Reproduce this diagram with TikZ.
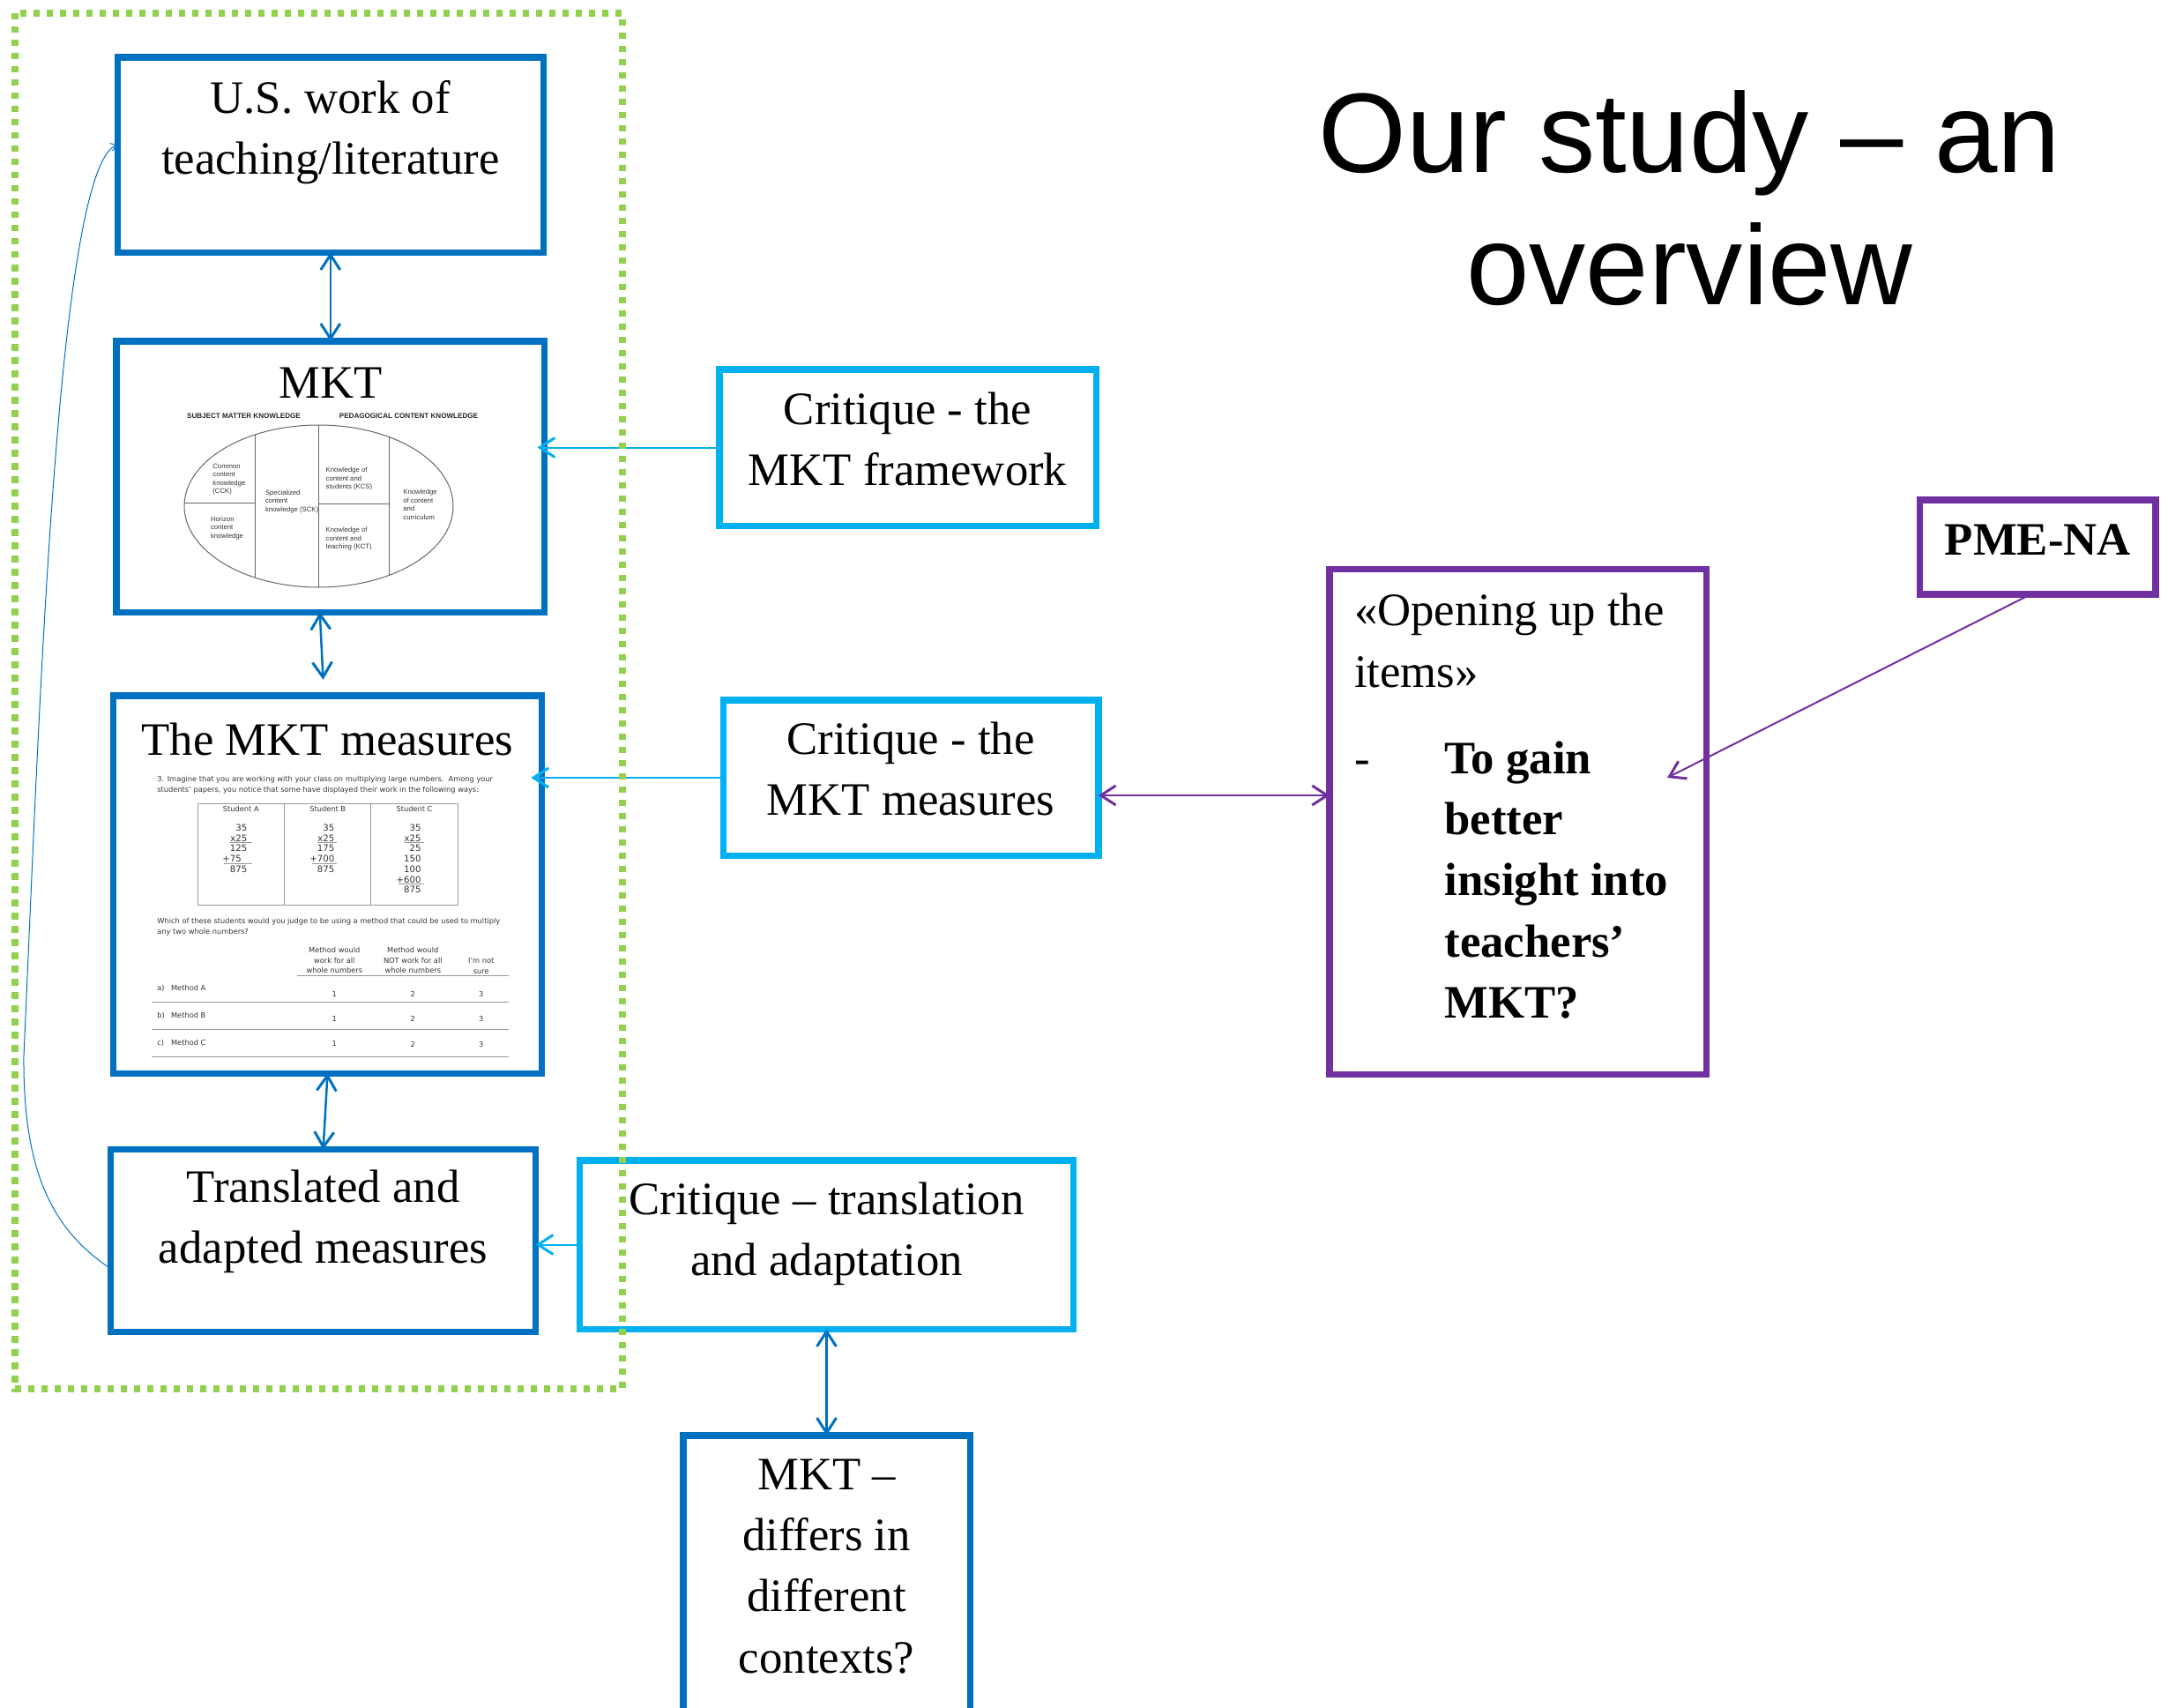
\documentclass[tikz,border=0pt]{standalone}
\usepackage{fontspec}
\setmainfont{Liberation Serif}
\newfontfamily\titlefont{Liberation Sans}
\newfontfamily\figfont{Liberation Sans}
\newfontfamily\itemfont{DejaVu Sans}
\usetikzlibrary{arrows.meta,positioning}
\definecolor{mktblue}{HTML}{0070C0}
\definecolor{critblue}{HTML}{00B0F0}
\definecolor{pmepurple}{HTML}{7030A0}
\definecolor{groupgreen}{HTML}{92D050}

\begin{document}
\begin{tikzpicture}[
  >={Straight Barb[length=1.7mm,width=2.2mm,line width=0.3mm]},
  darkbox/.style={draw=mktblue, line width=0.75mm, inner sep=0, outer sep=0},
  lightbox/.style={draw=critblue, line width=0.75mm, inner sep=0, outer sep=0},
  purplebox/.style={draw=pmepurple, line width=0.75mm, inner sep=0, outer sep=0},
  boxtext/.style={inner sep=0, align=center, font=\fontsize{15}{19.7}\selectfont},
  darklink/.style={draw=mktblue, line width=0.25mm},
  lightlink/.style={draw=critblue, line width=0.2mm},
  purplelink/.style={draw=pmepurple, line width=0.2mm},
  figline/.style={draw=black!60, line width=0.1mm},
  figtext/.style={inner sep=0, align=left, anchor=north west, text=black!80, font=\figfont\fontsize{2.2}{2.7}\selectfont},
  fighead/.style={inner sep=0, text=black!85, font=\figfont\bfseries\fontsize{2.3}{2.7}\selectfont},
  itemtext/.style={inner sep=0, text=black!80, font=\itemfont\fontsize{2.35}{3.3}\selectfont},
  worktext/.style={inner sep=0, anchor=north east, align=right, text=black!80, font=\itemfont\fontsize{2.9}{3.33}\selectfont},
  itemline/.style={draw=black!40, line width=0.08mm}
]
\useasboundingbox (0,0) rectangle (24.59,-19.37);

\node[inner sep=0, anchor=north, align=center, font=\titlefont\fontsize{36.5}{42.5}\selectfont] (title) at (19.165,-1.02) {Our study – an\\overview};

\node[darkbox, minimum width=4.83cm, minimum height=2.215cm] (us) at (3.748,-1.755) {};
\node[darkbox, minimum width=4.855cm, minimum height=3.075cm, below=1.005cm of us] (mkt) {};
\node[darkbox, minimum width=4.858cm, minimum height=4.285cm, below=0.945cm of mkt, xshift=-0.033cm] (meas) {};
\node[darkbox, minimum width=4.82cm, minimum height=2.068cm, below=0.862cm of meas, xshift=-0.049cm] (trans) {};
\node[lightbox, minimum width=4.275cm, minimum height=1.775cm] (cframe) at (10.295,-5.075) {};
\node[lightbox, minimum width=4.255cm, minimum height=1.765cm] (cmeas) at (10.33,-8.82) {};
\node[lightbox, minimum width=5.60cm, minimum height=1.915cm] (ctrans) at (9.375,-14.115) {};
\node[darkbox, minimum width=3.255cm, minimum height=3.685cm, below=1.205cm of ctrans] (differs) {};
\node[purplebox, minimum width=4.275cm, minimum height=5.728cm] (open) at (17.218,-9.3185) {};
\node[purplebox, minimum width=2.672cm, minimum height=1.069cm] (pme) at (23.113,-6.205) {};

\node[boxtext, below=0.259cm of us.north] (ustext) {U.S. work of\\teaching/literature};
\node[boxtext, below=0.30cm of mkt.north] (mkttext) {MKT};
\node[boxtext, below=0.30cm of meas.north] (meastext) {The MKT measures};
\node[boxtext, below=0.227cm of trans.north] (transtext) {Translated and\\adapted measures};
\node[boxtext, below=0.252cm of cframe.north] (cframetext) {Critique - the\\MKT framework};
\node[boxtext, below=0.242cm of cmeas.north] (cmeastext) {Critique - the\\MKT measures};
\node[boxtext, below=0.242cm of ctrans.north] (ctranstext) {Critique – translation\\and adaptation};
\node[boxtext, below=0.263cm of differs.north] (differstext) {MKT –\\differs in\\different\\contexts?};
\node[boxtext, align=left, anchor=north west] (opentext) at ([xshift=0.2725cm,yshift=-0.2725cm]open.north west)
  {«Opening up the\\items»\\[0.29cm]\makebox[1.026cm][l]{-}\textbf{To gain}\\\hspace*{1.026cm}\textbf{better}\\\hspace*{1.026cm}\textbf{insight into}\\\hspace*{1.026cm}\textbf{teachers’}\\\hspace*{1.026cm}\textbf{MKT?}};
\node[boxtext, below=0.273cm of pme.north] (pmetext) {\textbf{PME-NA}};

\node[fighead] (smk) at (2.765,-4.72) {SUBJECT MATTER KNOWLEDGE};
\node[fighead] (pck) at (4.635,-4.72) {PEDAGOGICAL CONTENT KNOWLEDGE};
\draw[figline] (3.615,-5.74) ellipse [x radius=1.525, y radius=0.92];
\draw[figline] (2.89,-4.933) -- (2.89,-6.55) (3.617,-4.82) -- (3.617,-6.66) (4.417,-4.96) -- (4.417,-6.52);
\draw[figline] (2.091,-5.70) -- (2.89,-5.70) (3.617,-5.71) -- (4.417,-5.71);
\node[figtext] (cck) at (2.407,-5.25) {Common\\content\\knowledge\\(CCK)};
\node[figtext] (hck) at (2.383,-5.85) {Horizon\\content\\knowledge};
\node[figtext] (sck) at (3.003,-5.55) {Specialized\\content\\knowledge (SCK)};
\node[figtext] (kcs) at (3.69,-5.293) {Knowledge of\\content and\\students (KCS)};
\node[figtext] (kct) at (3.69,-5.973) {Knowledge of\\content and\\teaching (KCT)};
\node[figtext] (kcc) at (4.567,-5.543) {Knowledge\\of content\\and\\curriculum};

\node[itemtext, anchor=north west, align=left] (question) at (1.777,-8.80)
  {3. Imagine that you are working with your class on multiplying large numbers.\ \ Among your\\students’ papers, you notice that some have displayed their work in the following ways:};
\draw[itemline] (2.243,-9.11) rectangle (5.193,-10.267) (3.223,-9.11) -- (3.223,-10.267) (4.207,-9.11) -- (4.207,-10.267);
\node[itemtext, anchor=base] (studa) at (2.733,-9.207) {Student A};
\node[itemtext, anchor=base] (studb) at (3.717,-9.207) {Student B};
\node[itemtext, anchor=base] (studc) at (4.70,-9.207) {Student C};
\node[worktext] (worka) at (2.81,-9.343) {35\\x25\\125\\+75\hphantom{0}\\875};
\node[worktext] (workb) at (3.80,-9.343) {35\\x25\\175\\+700\\875};
\node[worktext] (workc) at (4.783,-9.343) {35\\x25\\25\\150\\100\\+600\\875};
\draw[itemline] (2.60,-9.557) -- (2.857,-9.557) (2.543,-9.79) -- (2.857,-9.79);
\draw[itemline] (3.60,-9.557) -- (3.823,-9.557) (3.543,-9.79) -- (3.823,-9.79);
\draw[itemline] (4.583,-9.557) -- (4.807,-9.557) (4.523,-10.023) -- (4.807,-10.023);
\node[itemtext, anchor=north west, align=left] (which) at (1.777,-10.405)
  {Which of these students would you judge to be using a method that could be used to multiply\\any two whole numbers?};
\node[itemtext, anchor=north, align=center] (worksall) at (3.793,-10.737) {Method would\\work for all\\whole numbers};
\node[itemtext, anchor=north, align=center] (notall) at (4.683,-10.737) {Method would\\NOT work for all\\whole numbers};
\node[itemtext, anchor=north, align=center] (notsure) at (5.457,-10.857) {I’m not\\sure};
\draw[itemline] (3.37,-11.06) -- (5.767,-11.06);
\node[itemtext, anchor=north west, align=left, font=\itemfont\fontsize{2.35}{8.75}\selectfont] (methods) at (1.777,-11.17)
  {\makebox[0.157cm][l]{a)}Method A\\\makebox[0.157cm][l]{b)}Method B\\\makebox[0.157cm][l]{c)}Method C};
\node[itemtext, anchor=north, align=center, font=\itemfont\fontsize{2.35}{8.0}\selectfont] (ones) at (3.793,-11.24) {1\\1\\1};
\node[itemtext, anchor=north, align=center, font=\itemfont\fontsize{2.35}{8.0}\selectfont] (twos) at (4.683,-11.24) {2\\2\\2};
\node[itemtext, anchor=north, align=center, font=\itemfont\fontsize{2.35}{8.0}\selectfont] (threes) at (5.457,-11.24) {3\\3\\3};
\draw[itemline] (1.723,-11.367) -- (5.767,-11.367) (1.723,-11.677) -- (5.767,-11.677) (1.723,-11.983) -- (5.767,-11.983);

\draw[darklink, <->] (us.south) -- (mkt.north);
\draw[darklink, <->] ([xshift=-0.12cm]mkt.south) -- ([xshift=-0.05cm,yshift=0.18cm]meas.north);
\draw[darklink, <->] (meas.south) -- (trans.north);
\draw[lightlink, ->, shorten >=-0.08cm] (cframe.west) -- (cframe.west -| mkt.east);
\draw[lightlink, ->, shorten >=-0.12cm] (cmeas.west) -- (cmeas.west -| meas.east);
\draw[lightlink, ->] (ctrans.west) -- (ctrans.west -| trans.east);
\draw[darklink, <->] (ctrans.south) -- (differs.north);
\draw[purplelink, <->] ([yshift=-0.2cm]cmeas.east) -- ([yshift=-0.2cm]cmeas.east -| open.west);
\coordinate (gain) at (18.91,-8.82);
\draw[purplelink, ->] ([xshift=-0.08cm]pme.south) -- (gain);
\draw[draw=mktblue, line width=0.1mm, -{Straight Barb[length=0.7mm,width=0.9mm]}] ([yshift=-0.32cm]trans.west)
  .. controls (0.60,-13.95) and (0.26,-13.30) .. (0.27,-11.98)
  .. controls (0.45,-8.00) and (0.65,-1.90) .. ([yshift=0.115cm]us.west);

\draw[groupgreen, line width=0.75mm, dash pattern=on 0.75mm off 0.75mm] (0.17,-0.15) rectangle (7.06,-15.75);
\end{tikzpicture}
\end{document}
